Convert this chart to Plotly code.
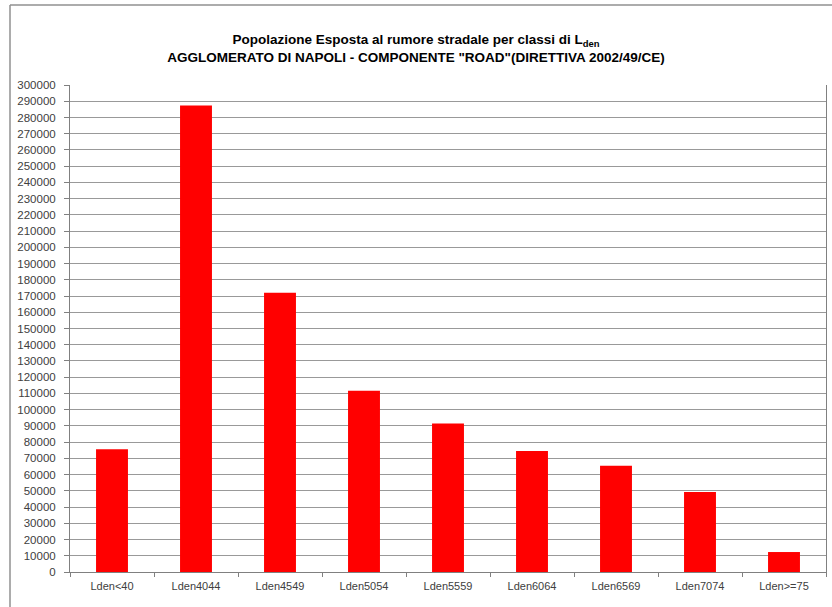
import plotly.graph_objects as go

categories = ["Lden<40", "Lden4044", "Lden4549", "Lden5054", "Lden5559",
              "Lden6064", "Lden6569", "Lden7074", "Lden>=75"]
population = [75600, 287300, 172000, 111600, 91500, 74600, 65400, 49300, 12300]
y_ticks = list(range(0, 300001, 10000))

FONT = "Liberation Sans, Arial, sans-serif"

fig = go.Figure(go.Bar(x=categories, y=population,
                       marker=dict(color="#FF0000", line=dict(width=0))))

# plot area in pixels: x 70..826, y 85..572
L, R, T, B = 70, 6, 85, 35
pw = 832 - L - R
ph = 607 - T - B

def px_x(x):
    return (x - L) / pw

def px_y(y):
    return (607 - B - y) / ph

fig.update_layout(
    width=832, height=607,
    margin=dict(l=L, r=R, t=T, b=B, autoexpand=False),
    paper_bgcolor="white", plot_bgcolor="white",
    bargap=0.62,
    showlegend=False,
    font=dict(family=FONT, color="#404040"),
    title=dict(
        text="<b>Popolazione Esposta al rumore stradale per classi di L<sub>den</sub></b><br>"
             "<b>AGGLOMERATO DI NAPOLI - COMPONENTE \"ROAD\"(DIRETTIVA 2002/49/CE)</b>",
        x=0.5, xanchor="center", y=1 - 44 / 607, yanchor="middle",
        font=dict(size=13.5, color="#000000", family=FONT),
    ),
    shapes=[
        dict(type="line", xref="paper", yref="paper",
             x0=px_x(10), x1=px_x(832), y0=px_y(5), y1=px_y(5),
             line=dict(color="#909090", width=1.5)),
        dict(type="line", xref="paper", yref="paper",
             x0=px_x(10), x1=px_x(10), y0=px_y(5), y1=px_y(607),
             line=dict(color="#909090", width=1.5)),
    ],
)
fig.update_xaxes(
    type="category", showline=True, linecolor="#808080", linewidth=1,
    ticks="outside", tickson="boundaries", ticklen=4, tickcolor="#808080",
    tickfont=dict(size=11, color="#404040"), showgrid=False, automargin=False,
    ticklabelstandoff=4,
)
fig.update_yaxes(
    range=[0, 300000], tickvals=y_ticks, ticktext=[str(v) for v in y_ticks],
    showline=True, mirror=True, linecolor="#808080", linewidth=1,
    ticks="outside", ticklen=5, tickcolor="#808080",
    showgrid=True, gridcolor="#999999", gridwidth=1,
    tickfont=dict(size=11.5, color="#404040"), zeroline=False, automargin=False,
    ticklabelstandoff=6,
)
fig.write_html("out.html",
               config={"displayModeBar": False},
               post_script="document.body.style.margin='0';document.body.style.overflow='hidden';")
